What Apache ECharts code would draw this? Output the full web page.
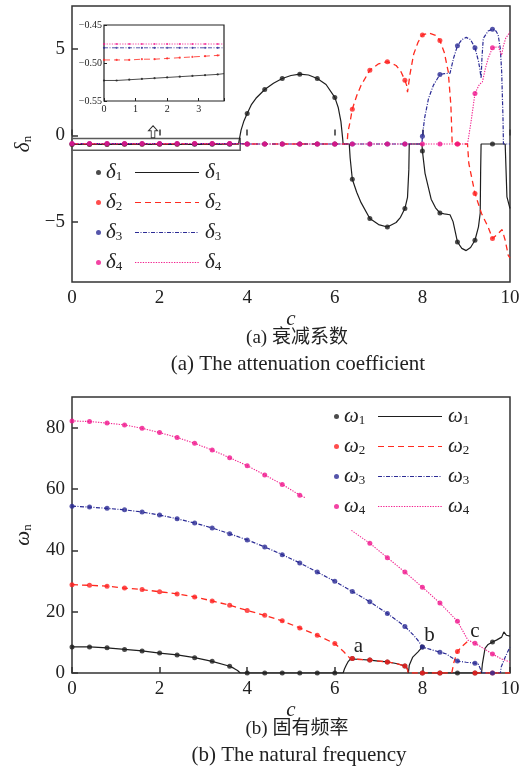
<!DOCTYPE html>
<html><head><meta charset="utf-8">
<script src="https://cdn.jsdelivr.net/npm/echarts@6/dist/echarts.min.js"></script>
<style>html,body{margin:0;padding:0;background:#fff}#c{width:529px;height:766px}</style>
</head><body><div id="c"></div>
<script>
// ---------- tick labels ----------
const xTicks = [0, 2, 4, 6, 8, 10];
const deltaTicks = [-5, 0, 5];
const omegaTicks = [0, 20, 40, 60, 80];
const deltaNames = ['δ1', 'δ2', 'δ3', 'δ4'];
const omegaNames = ['ω1', 'ω2', 'ω3', 'ω4'];

// ---------- (a) attenuation coefficient delta_n vs c ----------
const delta1 = [[0,-0.523],[0.4,-0.523],[0.8,-0.522],[1.2,-0.521],[1.6,-0.520],[2.0,-0.519],[2.4,-0.518],[2.8,-0.517],[3.2,-0.516],[3.6,-0.515],[3.8,-0.514],[3.84,-0.5],[3.86,0.3],[3.92,0.8],[4.0,1.27],[4.1,1.8],[4.2,2.15],[4.4,2.66],[4.6,3.02],[4.8,3.3],[5.0,3.47],[5.2,3.55],[5.4,3.5],[5.6,3.3],[5.8,2.95],[6.0,2.2],[6.08,1.6],[6.14,0.8],[6.18,-0.2],[6.19,-0.5],[6.33,-0.5],[6.35,-1.3],[6.4,-2.54],[6.5,-3.3],[6.6,-3.9],[6.8,-4.82],[7.0,-5.17],[7.2,-5.31],[7.4,-5.05],[7.5,-4.75],[7.6,-4.24],[7.66,-3.6],[7.69,-2.0],[7.70,-0.5],[7.99,-0.5],[8.0,-0.9],[8.06,-2.2],[8.2,-3.7],[8.3,-4.2],[8.4,-4.5],[8.5,-4.55],[8.63,-4.6],[8.7,-5.0],[8.8,-6.18],[8.9,-6.55],[9.0,-6.68],[9.1,-6.5],[9.2,-6.08],[9.28,-5.3],[9.32,-4.5],[9.33,-2.0],[9.34,-0.5],[9.6,-0.5],[9.89,-0.5],[9.93,-3.57],[10,-4.24]];
const delta2 = [[0,-0.496],[0.4,-0.496],[0.8,-0.496],[1.2,-0.495],[1.6,-0.495],[2.0,-0.494],[2.4,-0.493],[2.8,-0.492],[3.2,-0.491],[3.6,-0.490],[3.8,-0.489],[4.0,-0.5],[4.4,-0.5],[4.8,-0.5],[5.2,-0.5],[5.6,-0.5],[6.0,-0.5],[6.28,-0.5],[6.3,0.2],[6.35,0.8],[6.4,1.52],[6.5,2.3],[6.6,2.9],[6.8,3.78],[7.0,4.15],[7.2,4.27],[7.4,4.05],[7.5,3.75],[7.6,3.2],[7.64,2.9],[7.66,2.5],[7.68,2.6],[7.72,3.6],[7.8,4.7],[7.9,5.4],[8.0,5.82],[8.15,5.93],[8.3,5.8],[8.4,5.5],[8.5,4.8],[8.59,3.69],[8.65,1.75],[8.67,0.3],[8.68,-0.5],[8.8,-0.5],[9.03,-0.5],[9.06,-1.63],[9.2,-3.37],[9.35,-4.53],[9.5,-5.31],[9.6,-5.98],[9.73,-5.69],[9.82,-5.46],[9.89,-6.08],[9.96,-6.95],[10,-7.1]];
const delta3 = [[0,-0.480],[0.4,-0.480],[0.8,-0.480],[1.2,-0.480],[1.6,-0.480],[2.0,-0.480],[2.4,-0.480],[2.8,-0.480],[3.2,-0.480],[3.6,-0.480],[3.8,-0.480],[4.0,-0.5],[4.4,-0.5],[4.8,-0.5],[5.2,-0.5],[5.6,-0.5],[6.0,-0.5],[6.4,-0.5],[6.8,-0.5],[7.2,-0.5],[7.6,-0.5],[7.99,-0.5],[8.0,-0.05],[8.05,1.0],[8.14,2.14],[8.25,2.9],[8.4,3.53],[8.5,3.58],[8.63,3.6],[8.71,4.46],[8.8,5.19],[8.9,5.55],[9.0,5.68],[9.1,5.55],[9.2,5.08],[9.28,4.3],[9.31,3.88],[9.34,3.3],[9.36,4.5],[9.39,5.62],[9.5,6.05],[9.6,6.15],[9.68,6.05],[9.73,5.82],[9.78,5.0],[9.81,3.69],[9.84,1.0],[9.85,-0.5],[10,-0.5]];
const delta4 = [[0,-0.475],[0.4,-0.475],[0.8,-0.475],[1.2,-0.475],[1.6,-0.475],[2.0,-0.475],[2.4,-0.475],[2.8,-0.475],[3.2,-0.475],[3.6,-0.475],[3.8,-0.475],[4.0,-0.5],[4.4,-0.5],[4.8,-0.5],[5.2,-0.5],[5.6,-0.5],[6.0,-0.5],[6.4,-0.5],[6.8,-0.5],[7.2,-0.5],[7.6,-0.5],[8.0,-0.5],[8.4,-0.5],[8.8,-0.5],[9.03,-0.5],[9.08,0.3],[9.11,0.78],[9.2,2.43],[9.3,2.95],[9.37,3.1],[9.44,3.9],[9.5,4.46],[9.6,5.08],[9.73,5.14],[9.81,4.65],[9.85,5.2],[9.9,5.62],[10,6.0]];

// ---------- (b) natural frequency omega_n vs c (null = gap) ----------
const omega1 = [[0,8.5],[0.4,8.5],[0.8,8.2],[1.2,7.7],[1.6,7.2],[2.0,6.5],[2.4,5.9],[2.8,5.0],[3.2,3.8],[3.6,2.2],[3.7,1.5],[3.78,0.8],[3.84,0],[4.0,0],[4.4,0],[4.8,0],[5.2,0],[5.6,0],[6.0,0],[6.19,0],[6.22,1.3],[6.26,2.5],[6.3,3.6],[6.36,4.6],[6.4,4.7],[6.6,4.4],[6.8,4.2],[7.0,3.9],[7.2,3.6],[7.4,3.1],[7.6,2.3],[7.65,1.6],[7.68,0],[7.7,2.5],[7.78,5.2],[7.9,6.9],[8.0,8.5],[8.0,null],[8.0,0],[8.4,0],[8.8,0],[9.2,0],[9.35,0],[9.37,3.0],[9.43,8.0],[9.5,9.3],[9.6,10.1],[9.7,10.8],[9.81,11.7],[9.86,13.4],[9.92,12.3],[10,12.0]];
const omega2 = [[0,28.8],[0.4,28.6],[0.8,28.3],[1.2,27.7],[1.6,27.2],[2.0,26.5],[2.4,25.8],[2.8,24.8],[3.2,23.5],[3.6,22.1],[4.0,20.4],[4.4,18.8],[4.8,17.0],[5.2,14.7],[5.6,12.3],[6.0,9.6],[6.2,7.0],[6.36,4.6],[6.4,4.7],[6.6,4.4],[6.8,4.2],[7.0,3.9],[7.2,3.6],[7.4,3.1],[7.6,2.3],[7.65,1.6],[7.68,0],[8.0,0],[8.4,0],[8.67,0],[8.72,3.5],[8.8,7.0],[8.9,8.6],[9.04,10.4],[9.04,null],[9.2,0],[9.6,0],[10,0]];
const omega3 = [[0,54.4],[0.4,54.1],[0.8,53.7],[1.2,53.2],[1.6,52.5],[2.0,51.5],[2.4,50.3],[2.8,48.9],[3.2,47.3],[3.6,45.4],[4.0,43.4],[4.4,41.1],[4.8,38.6],[5.2,35.9],[5.6,32.9],[6.0,29.9],[6.4,26.6],[6.8,23.2],[7.2,19.4],[7.6,15.2],[7.8,12.3],[7.9,10.6],[8.0,8.5],[8.2,7.6],[8.4,6.8],[8.55,6.2],[8.65,5.2],[8.8,3.9],[9.0,3.5],[9.2,3.2],[9.28,2.8],[9.32,1.5],[9.35,0],[9.6,0],[9.78,0],[9.8,2.0],[9.9,5.5],[10,8.5]];
const omega4 = [[0,82.2],[0.4,82.0],[0.8,81.5],[1.2,80.9],[1.6,79.8],[2.0,78.4],[2.4,76.8],[2.8,74.9],[3.2,72.7],[3.6,70.2],[4.0,67.6],[4.4,64.6],[4.8,61.5],[5.2,58.0],[5.32,57.2],[5.32,null],[6.38,46.5],[6.8,42.3],[7.2,37.6],[7.6,32.9],[8.0,28.0],[8.4,22.8],[8.8,16.9],[8.95,13.0],[9.04,10.7],[9.2,9.7],[9.4,8.0],[9.6,6.2],[9.8,4.6],[10,3.6]];

const deltaData = [delta1, delta2, delta3, delta4];
const omegaData = [omega1, omega2, omega3, omega4];

// ---------- styles ----------
const lineStyles = [
  {color:'#1e1e1e', type:'solid', width:1.2},
  {color:'#ff2a1f', type:[6,4], width:1.3},
  {color:'#2b2b95', type:[4,1.5,1,1.5], width:1.2},
  {color:'#f2208e', type:[1.3,1.3], width:1.1}
];
const markerColors = ['#1e1e1e', '#ff2020', '#2b2b95', '#f0148c'];
const SERIF = '"Liberation Serif", "Times New Roman", serif';

const onGrid = c => Math.abs(c/0.4 - Math.round(c/0.4)) < 1e-6 && c < 9.99;
const clean = d => d.map(p => [p[0], p[1] == null ? '-' : p[1]]);
const markers = d => d.filter(p => p[1] != null && onGrid(p[0]));

const richSub = {
  m: {fontFamily: SERIF, fontStyle: 'italic', fontSize: 21, lineHeight: 21, color: '#222'},
  s: {fontFamily: SERIF, fontSize: 13, lineHeight: 10, verticalAlign: 'bottom', color: '#222'}
};
const fmtName = n => { n = n.replace('_l',''); return '{m|' + n[0] + '}{s|' + n.slice(1) + '}'; };
const minusFmt = v => (v < 0 ? '−' + (-v) : '' + v);

const series = [];
function addChart(data, names, xi, yi) {
  data.forEach((d, i) => {
    series.push({type:'line', name:names[i]+'_l', xAxisIndex:xi, yAxisIndex:yi, data:clean(d),
      symbol:'none', lineStyle:lineStyles[i], itemStyle:{color:lineStyles[i].color}, z:2+i, silent:true, connectNulls:false});
    series.push({type:'scatter', name:names[i], xAxisIndex:xi, yAxisIndex:yi, data:markers(d),
      symbol:'circle', symbolSize:5, itemStyle:{color:markerColors[i]}, z:6+i, silent:true});
  });
}
addChart(deltaData, deltaNames, 0, 0);
addChart(omegaData, omegaNames, 2, 2);

// inset: the same curves for c <= 3.8
deltaData.forEach((d, i) => {
  const sub = d.filter(p => p[0] <= 3.8 + 1e-9);
  series.push({type:'line', xAxisIndex:1, yAxisIndex:1, data:sub, symbol:'none',
    lineStyle:Object.assign({}, lineStyles[i], {width:0.8}), z:12, silent:true});
  series.push({type:'scatter', xAxisIndex:1, yAxisIndex:1, data:markers(sub), symbol:'circle', symbolSize:2.2,
    itemStyle:{color:markerColors[i]}, z:13, silent:true});
});

// annotations: zoom box + arrow on the delta1 line, a/b/c on omega4 line
series[0].markArea = {silent:true, itemStyle:{color:'rgba(0,0,0,0)', borderColor:'#5a5a5a', borderWidth:1.5},
  data:[[{coord:[0,-0.18]},{coord:[3.84,-0.86]}]]};
series[0].markPoint = {silent:true, symbol:'path://M5,0L10,5L7,5L7,12L3,12L3,5L0,5Z', symbolSize:[9,12],
  itemStyle:{color:'#fff', borderColor:'#333', borderWidth:1}, label:{show:false}, data:[{coord:[1.85,0.21]}]};
series[14].markPoint = {silent:true, symbol:'circle', symbolSize:1, itemStyle:{color:'rgba(0,0,0,0)'},
  label:{show:true, position:'inside', formatter:p => p.name, fontFamily:SERIF, fontSize:21, color:'#222'},
  data:[{name:'a', coord:[6.54,8.5]},{name:'b', coord:[8.16,12.3]},{name:'c', coord:[9.2,13.7]}]};

const mainX = gi => ({gridIndex:gi, type:'value', min:0, max:10, interval:2,
  axisLine:{show:false}, splitLine:{show:false},
  axisTick:{inside:true, length:6, lineStyle:{color:'#333', width:1.5}},
  axisLabel:{margin:7, fontFamily:SERIF, fontSize:19, color:'#222', formatter:v => xTicks.includes(v) ? v : ''},
  name:'c', nameLocation:'middle', nameGap:26,
  nameTextStyle:{fontFamily:SERIF, fontStyle:'italic', fontSize:21, color:'#222'}});

// legend layout (vertical rows, 30px apart)
const ROW = 30, ITEM_H = 21;
const legTopA = 162, legTopB = 406;
const legendBase = {orient:'vertical', padding:0, itemGap:ROW - ITEM_H, selectedMode:false,
  formatter:fmtName, textStyle:{rich:richSub}};
const lineLegend = {itemWidth:64, itemHeight:14, itemStyle:{opacity:0}, lineStyle:{opacity:0}};

// legend line swatches drawn as plain strokes next to the legend labels
function swatches(x0, top) {
  return lineStyles.map((s, i) => ({type:'line', z:50, silent:true,
    shape:{x1:x0, y1:top + ITEM_H/2 + ROW*i, x2:x0 + 64, y2:top + ITEM_H/2 + ROW*i},
    style:{stroke:s.color, lineWidth:1.2, lineDash:s.type === 'solid' ? null : s.type}}));
}

const option = {
  animation:false,
  backgroundColor:'#fff',
  grid:[
    {left:72, top:6, width:438, height:276, show:true, borderColor:'#333', borderWidth:1.5},
    {left:104, top:25, width:120, height:76, show:true, borderColor:'#222', borderWidth:1.2, backgroundColor:'#fff'},
    {left:72, top:397, width:438, height:276, show:true, borderColor:'#333', borderWidth:1.5}
  ],
  xAxis:[
    mainX(0),
    {gridIndex:1, type:'value', min:0, max:3.8, interval:1, axisLine:{show:false}, splitLine:{show:false},
      axisTick:{inside:true, length:3, lineStyle:{color:'#222'}},
      axisLabel:{margin:3, fontFamily:SERIF, fontSize:10, color:'#222', formatter:v => (v === 3.8 ? '' : v)}},
    mainX(2)
  ],
  yAxis:[
    {gridIndex:0, type:'value', min:-8.5, max:7.5, axisLine:{show:false}, splitLine:{show:false},
      axisTick:{inside:true, length:6, customValues:deltaTicks, lineStyle:{color:'#333', width:1.5}},
      axisLabel:{customValues:deltaTicks, margin:7, fontFamily:SERIF, fontSize:19, color:'#222', formatter:minusFmt},
      name:'{m|δ}{s|n}', nameLocation:'middle', nameGap:36, nameTextStyle:{rich:richSub}},
    {gridIndex:1, type:'value', min:-0.55, max:-0.45, interval:0.05, axisLine:{show:false}, splitLine:{show:false},
      axisTick:{inside:true, length:3, lineStyle:{color:'#222'}},
      axisLabel:{margin:2, fontFamily:SERIF, fontSize:10, color:'#222', formatter:v => '−' + Math.abs(v).toFixed(2)}},
    {gridIndex:2, type:'value', min:0, max:90, axisLine:{show:false}, splitLine:{show:false},
      axisTick:{inside:true, length:6, customValues:omegaTicks, lineStyle:{color:'#333', width:1.5}},
      axisLabel:{customValues:omegaTicks, margin:7, fontFamily:SERIF, fontSize:19, color:'#222'},
      name:'{m|ω}{s|n}', nameLocation:'middle', nameGap:38, nameTextStyle:{rich:richSub}}
  ],
  legend:[
    Object.assign({}, legendBase, {data:deltaNames, left:96, top:legTopA, icon:'circle', itemWidth:5, itemHeight:5}),
    Object.assign({}, legendBase, lineLegend, {data:deltaNames.map(n => n+'_l'), left:135, top:legTopA}),
    Object.assign({}, legendBase, {data:omegaNames, left:334, top:legTopB, icon:'circle', itemWidth:5, itemHeight:5}),
    Object.assign({}, legendBase, lineLegend, {data:omegaNames.map(n => n+'_l'), left:378, top:legTopB})
  ],
  graphic:[].concat(swatches(135, legTopA), swatches(378, legTopB), [
    {type:'text', x:297, y:338, style:{text:'(a) 衰减系数', font:'19px "Liberation Serif", "Noto Sans CJK SC"', fill:'#222', textAlign:'center', textVerticalAlign:'middle', align:'center', verticalAlign:'middle'}},
    {type:'text', x:298, y:364, style:{text:'(a) The attenuation coefficient', font:'21px "Liberation Serif"', fill:'#222', textAlign:'center', textVerticalAlign:'middle', align:'center', verticalAlign:'middle'}},
    {type:'text', x:297, y:729, style:{text:'(b) 固有频率', font:'19px "Liberation Serif", "Noto Sans CJK SC"', fill:'#222', textAlign:'center', textVerticalAlign:'middle', align:'center', verticalAlign:'middle'}},
    {type:'text', x:299, y:755, style:{text:'(b) The natural frequency', font:'21px "Liberation Serif"', fill:'#222', textAlign:'center', textVerticalAlign:'middle', align:'center', verticalAlign:'middle'}}
  ]),
  series:series
};

const chart = echarts.init(document.getElementById('c'), null, {renderer:'canvas'});
chart.setOption(option);
</script>
</body></html>
